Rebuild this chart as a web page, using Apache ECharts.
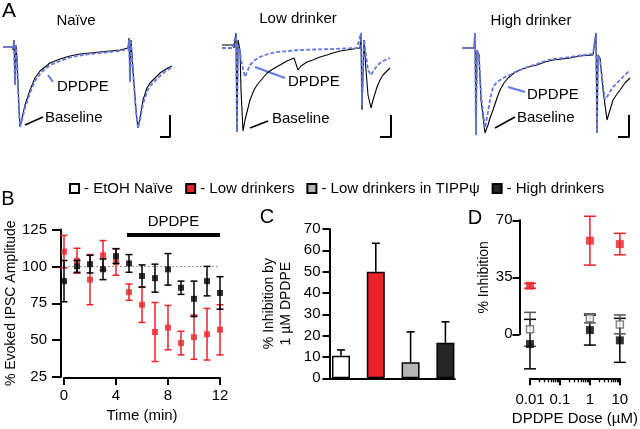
<!DOCTYPE html>
<html><head><meta charset="utf-8">
<script src="https://cdn.jsdelivr.net/npm/echarts@6/dist/echarts.min.js"></script>
<style>html,body{margin:0;padding:0;background:#fff}#c{width:640px;height:429px}</style>
</head><body><div id="c"></div>
<script>
// ---------- Panel A: example IPSC traces, [time (ms), current (pA)] ----------
const naiveBaseline = [[0,0],[10,0],[10,-3],[11,7],[12,-38],[13,2],[14,-13],[16,-63],[17,-80],[19,-71],[22,-58],[27,-43],[32,-31],[37,-24],[42,-20],[47,-16],[57,-12],[67,-9],[77,-7],[87,-6],[97,-5],[107,-4],[117,-3],[125,-1],[126,9],[127,-33],[128,7],[130,-23],[133,-63],[135,-81],[137,-71],[140,-53],[144,-41],[147,-36],[152,-31],[157,-26],[163,-22],[169,-19]];
const naiveDPDPE = [[0,0],[10,0],[11,5],[12,-38],[13,2],[14,-13],[16,-63],[17,-80],[19,-73],[22,-61],[27,-46],[32,-34],[37,-27],[42,-22],[47,-18],[57,-14],[67,-10.5],[77,-8.5],[87,-7],[97,-6],[107,-5],[117,-4],[125,-2],[126,7],[127,-35],[128,5],[130,-25],[133,-65],[135,-81],[137,-73],[140,-57],[144,-45],[147,-39],[152,-34],[157,-29],[163,-24],[169,-20]];
const lowBaseline = [[0,2],[11,2],[12,-1],[14,14],[15,-85],[16,7],[18,-3],[19,-43],[21,-84],[23,-73],[26,-61],[28,-53],[32,-43],[35,-38],[40,-32],[45,-26],[51,-22],[58,-18],[65,-14],[72,-11],[74,-11],[76,-23],[79,-19],[85,-15],[91,-13],[98,-10],[105,-8],[111,-6],[118,-4],[125,-3],[131,-2],[138,-1],[139,14],[140,-63],[142,7],[144,-23],[146,-48],[149,-61],[151,-53],[155,-40],[158,-33],[161,-28],[165,-24],[168,-21]];
const lowDPDPE = [[0,-1],[11,-1],[14,14],[15,-85],[16,2],[18,-5],[20,-18],[23,-30],[25,-25],[28,-18],[33,-13],[38,-10],[46,-7],[55,-5],[66,-4],[78,-3],[93,-2.5],[111,-2],[123,-1.5],[135,-1],[139,14],[140,-58],[142,7],[144,-8],[146,-23],[149,-28],[152,-23],[155,-19],[158,-16],[163,-13],[168,-11]];
const highBaseline = [[2,-1],[14,-1],[15,14],[16,-88],[17,-3],[19,-8],[21,-53],[25,-86],[28,-78],[30,-71],[33,-63],[37,-51],[40,-43],[44,-36],[48,-31],[54,-26],[60,-23],[68,-20],[77,-18],[85,-15],[93,-13],[102,-12],[110,-11],[120,-9],[133,-8],[136,14],[137,-86],[138,-8],[140,-11],[143,-43],[147,-73],[150,-63],[153,-53],[157,-47],[160,-43],[165,-36],[170,-31]];
const highDPDPE = [[2,-1],[14,-1],[15,14],[16,-88],[17,-3],[19,-8],[21,-48],[25,-81],[28,-65],[30,-53],[33,-40],[37,-35],[40,-33],[45,-30],[50,-28],[55,-25],[60,-23],[68,-20],[77,-17],[85,-14],[93,-12],[102,-11],[110,-10],[120,-8.5],[133,-7],[136,14],[137,-86],[138,-8],[140,-13],[143,-38],[145,-53],[148,-48],[153,-40],[157,-36],[160,-33],[165,-28],[170,-23]];
const scaleBarNaive = [[157,-90],[167,-90],[167,-68]];
const scaleBarLow = [[158,-90],[169,-90],[169,-68]];
const scaleBarHigh = [[158,-90],[169,-90],[169,-68]];

// ---------- Panel B: time course ----------
const timeMin = [0,1,2,3,4,5,6,7,8,9,10,11,12];
const lowMean = [110,103.8,91,107.5,103,82.5,74,55.5,58.5,48,52,54,57];
const lowSem  = [11,8.5,17,10,9,5.5,12,20,15,8,15,17.5,17];
const highMean = [90,100,101.5,98,107,102,93.5,92,98,85.5,78,90,82];
const highSem  = [14,4,6,7,5,6,7.5,9.5,10.7,4.5,12,10,11];
const dpdpeWindow = [4.85, 12];
const dpdpeBarLevel = 121.5;

// ---------- Panel C: % inhibition by 1 uM DPDPE ----------
const groups = ['EtOH Naïve','Low drinkers','Low drinkers in TIPPψ','High drinkers'];
const groupColors = ['#ffffff','#e8232a','#b5b5b5','#262626'];
const inhib1uM = [10.6, 50, 7.5, 16.7];
const inhib1uMSem = [2.7, 13.3, 14.3, 9.8];

// ---------- Panel D: dose response ----------
const doses = [0.01, 1, 10];
const dNaive = [3.1, 9.8, 6.1];   const dNaiveSem = [10.4, 2.8, 5.8];
const dLow   = [29.8, 57.5, 55.4]; const dLowSem = [1.5, 15, 6.6];
const dHigh  = [-6, 2.6, -3.7];    const dHighSem = [15.2, 9.2, 13.5];
const doseMinorTicks = [0.02,0.03,0.04,0.05,0.06,0.07,0.08,0.09,0.2,0.3,0.4,0.5,0.6,0.7,0.8,0.9,2,3,4,5,6,7,8,9];

const FONT = 'Liberation Sans, Arial, Helvetica, sans-serif';
const RED = '#e8232a', BLUE = '#6478e6';

function errSeries(xi, yi, data, color, capHalf, upOnly, lw, z) {
  return {
    type: 'custom', xAxisIndex: xi, yAxisIndex: yi, z: z || 3, silent: true,
    encode: {x: 0, y: 1},
    data: data,
    renderItem: function (params, api) {
      const x = api.value(0), y = api.value(1), e = api.value(2);
      const t = api.coord([x, y + e]);
      const m = api.coord([x, y]);
      const b = api.coord([x, y - e]);
      const s = upOnly ? m : b;
      const st = {stroke: color, lineWidth: lw};
      const ch = [
        {type: 'line', shape: {x1: t[0], y1: t[1], x2: s[0], y2: s[1]}, style: st},
        {type: 'line', shape: {x1: t[0] - capHalf, y1: t[1], x2: t[0] + capHalf, y2: t[1]}, style: st}
      ];
      if (!upOnly) ch.push({type: 'line', shape: {x1: b[0] - capHalf, y1: b[1], x2: b[0] + capHalf, y2: b[1]}, style: st});
      return {type: 'group', children: ch};
    }
  };
}
const zip3 = (a, b, c) => a.map((v, i) => [v, b[i], c[i]]);
const zip2 = (a, b) => a.map((v, i) => [v, b[i]]);

function traceAxesX(i) { return {gridIndex: i, type: 'value', min: 0, max: 170, show: false}; }
function traceAxesY(i) { return {gridIndex: i, type: 'value', min: -93, max: 17, show: false}; }
function trace(i, data, color, dashed, w) {
  return {type: 'line', xAxisIndex: i, yAxisIndex: i, data: data, symbol: 'none', silent: true,
    lineStyle: {color: color, width: w, type: dashed ? [4, 2] : 'solid'}, z: dashed ? 3 : 2};
}

const axisLineStyle = {onZero: false, lineStyle: {color: '#000', width: 2}};
const labelStyle = {color: '#000', fontSize: 15, fontFamily: FONT};

const option = {
  animation: false,
  backgroundColor: '#fff',
  textStyle: {fontFamily: FONT, color: '#000'},
  legend: {
    top: 176, left: 64, itemWidth: 9, itemHeight: 9, itemGap: 12, selectedMode: false,
    icon: 'rect',
    data: groups,
    formatter: n => '- ' + n,
    textStyle: {fontSize: 15, color: '#000', fontFamily: FONT}
  },
  grid: [
    {left: 3, top: 30, width: 170, height: 110},
    {left: 222, top: 30, width: 170, height: 110},
    {left: 460, top: 30, width: 170, height: 110},
    {left: 64, top: 229.5, width: 156, height: 147.5},
    {left: 329.5, top: 229, width: 125.3, height: 149.3},
    {left: 530, top: 220.3, width: 98.3, height: 158},
    {left: 519.5, top: 220.3, width: 100, height: 114}
  ],
  xAxis: [
    traceAxesX(0), traceAxesX(1), traceAxesX(2),
    {gridIndex: 3, type: 'value', min: 0, max: 12, interval: 4, offset: 1,
      axisLine: axisLineStyle, axisTick: {length: 7, lineStyle: {width: 2, color: '#000'}},
      axisLabel: Object.assign({margin: 10}, labelStyle), splitLine: {show: false},
      name: 'Time (min)', nameLocation: 'middle', nameGap: 30, nameTextStyle: labelStyle},
    {gridIndex: 4, type: 'value', min: 0.67, max: 4.27, axisLine: axisLineStyle,
      axisTick: {show: false}, axisLabel: {show: false}, splitLine: {show: false}},
    {gridIndex: 5, type: 'log', logBase: 10, min: 0.01, max: 10, position: 'bottom',
      axisLine: axisLineStyle, axisTick: {length: 7, lineStyle: {width: 2, color: '#000'}},
      axisLabel: Object.assign({margin: 14}, labelStyle), splitLine: {show: false}, minorTick: {show: false},
      name: 'DPDPE Dose (µM)', nameLocation: 'middle', nameGap: 33, nameTextStyle: labelStyle},
    {gridIndex: 5, type: 'log', logBase: 10, min: 0.01, max: 10, position: 'bottom',
      axisLine: {show: false, onZero: false}, axisLabel: {show: false}, splitLine: {show: false},
      axisTick: {customValues: doseMinorTicks, length: 4, lineStyle: {width: 1.3, color: '#000'}}},
    {gridIndex: 6, type: 'value', min: 0, max: 1, show: false}
  ],
  yAxis: [
    traceAxesY(0), traceAxesY(1), traceAxesY(2),
    {gridIndex: 3, type: 'value', min: 25, max: 125, interval: 25, offset: 3,
      axisLine: Object.assign({show: true}, axisLineStyle), axisTick: {show: true, length: 9, lineStyle: {width: 2, color: '#000'}},
      axisLabel: Object.assign({margin: 14}, labelStyle), splitLine: {show: false},
      name: '% Evoked IPSC Amplitude', nameLocation: 'middle', nameGap: 43,
      nameTextStyle: {fontSize: 14, color: '#000', fontFamily: FONT}},
    {gridIndex: 4, type: 'value', min: 0, max: 70, interval: 10,
      axisLine: Object.assign({show: true}, axisLineStyle), axisTick: {show: true, length: 7, lineStyle: {width: 2, color: '#000'}},
      axisLabel: Object.assign({margin: 9}, labelStyle), splitLine: {show: false},
      name: '% Inhibition by\n1 µM DPDPE', nameLocation: 'middle', nameGap: 35,
      nameTextStyle: {fontSize: 14, lineHeight: 17, color: '#000', fontFamily: FONT}},
    {gridIndex: 5, type: 'value', min: -27, max: 70, show: false},
    {gridIndex: 6, type: 'value', min: 0, max: 70, interval: 35,
      axisLine: Object.assign({show: true}, axisLineStyle), axisTick: {show: true, length: 7, lineStyle: {width: 2, color: '#000'}},
      axisLabel: Object.assign({margin: 7}, labelStyle), splitLine: {show: false},
      name: '% Inhibition', nameLocation: 'middle', nameGap: 28,
      nameTextStyle: {fontSize: 14, color: '#000', fontFamily: FONT}}
  ],
  series: [
    // Panel A
    trace(0, naiveBaseline, '#000', false, 1.1), trace(0, naiveDPDPE, BLUE, true, 1.8),
    trace(1, lowBaseline, '#000', false, 1.1), trace(1, lowDPDPE, BLUE, true, 1.8),
    trace(2, highBaseline, '#000', false, 1.1), trace(2, highDPDPE, BLUE, true, 1.8),
    trace(0, scaleBarNaive, '#000', false, 2), trace(1, scaleBarLow, '#000', false, 2), trace(2, scaleBarHigh, '#000', false, 2),
    // Panel B
    errSeries(3, 3, zip3(timeMin, lowMean, lowSem), RED, 3.5, false, 1.5, 3),
    {type: 'scatter', name: 'B low', xAxisIndex: 3, yAxisIndex: 3, data: zip2(timeMin, lowMean),
      symbol: 'rect', symbolSize: 6, itemStyle: {color: RED}, z: 4, silent: true,
      markLine: {silent: true, symbol: 'none', animation: false,
        data: [
          {yAxis: 100, lineStyle: {type: [2, 2], color: '#999', width: 1}, label: {show: false}},
          [{coord: [dpdpeWindow[0], dpdpeBarLevel], lineStyle: {type: 'solid', color: '#000', width: 4},
             label: {show: true, formatter: 'DPDPE', position: 'insideMiddleTop', distance: 5, fontSize: 15, color: '#000', fontFamily: FONT}},
           {coord: [dpdpeWindow[1], dpdpeBarLevel]}]
        ]}},
    errSeries(3, 3, zip3(timeMin, highMean, highSem), '#000', 3.5, false, 1.5, 5),
    {type: 'scatter', name: 'B high', xAxisIndex: 3, yAxisIndex: 3, data: zip2(timeMin, highMean),
      symbol: 'rect', symbolSize: 6, itemStyle: {color: '#000'}, z: 6, silent: true},
    // Panel C
    ...groups.map((g, i) => ({
      type: 'bar', name: g, xAxisIndex: 4, yAxisIndex: 4, barWidth: 18, barGap: '-100%',
      data: [[i + 1, inhib1uM[i]]], silent: true,
      itemStyle: {color: groupColors[i], borderColor: '#000', borderWidth: 1.5}
    })),
    errSeries(4, 4, zip3(groups.map((g, i) => i + 1), inhib1uM, inhib1uMSem), '#000', 4, true, 1.6, 5),
    // Panel D
    errSeries(5, 5, zip3(doses, dHigh, dHighSem), '#000', 6, false, 1.5, 3),
    errSeries(5, 5, zip3(doses, dNaive, dNaiveSem), '#555', 6, false, 1.5, 3),
    errSeries(5, 5, zip3(doses, dLow, dLowSem), RED, 6, false, 1.5, 3),
    {type: 'scatter', name: 'D high', xAxisIndex: 5, yAxisIndex: 5, data: zip2(doses, dHigh),
      symbol: 'rect', symbolSize: 8, itemStyle: {color: '#000'}, z: 5, silent: true},
    {type: 'scatter', name: 'D naive', xAxisIndex: 5, yAxisIndex: 5, data: zip2(doses, dNaive),
      symbol: 'rect', symbolSize: 7, itemStyle: {color: '#fff', borderColor: '#666', borderWidth: 1.5}, z: 6, silent: true},
    {type: 'scatter', name: 'D low', xAxisIndex: 5, yAxisIndex: 5, data: zip2(doses, dLow),
      symbol: 'rect', symbolSize: 8, itemStyle: {color: RED}, z: 6, silent: true}
  ],
  graphic: [
    {type: 'text', x: 9, y: 11, style: {text: 'A', font: '21px ' + FONT, fill: '#000', align: 'center', verticalAlign: 'middle'}},
    {type: 'text', x: 8, y: 199, style: {text: 'B', font: '20px ' + FONT, fill: '#000', align: 'center', verticalAlign: 'middle'}},
    {type: 'text', x: 267, y: 217, style: {text: 'C', font: '20px ' + FONT, fill: '#000', align: 'center', verticalAlign: 'middle'}},
    {type: 'text', x: 475, y: 218, style: {text: 'D', font: '20px ' + FONT, fill: '#000', align: 'center', verticalAlign: 'middle'}},
    {type: 'text', x: 76, y: 21, style: {text: 'Naïve', font: '15px ' + FONT, fill: '#000', align: 'center', verticalAlign: 'middle'}},
    {type: 'text', x: 298, y: 19, style: {text: 'Low drinker', font: '15px ' + FONT, fill: '#000', align: 'center', verticalAlign: 'middle'}},
    {type: 'text', x: 531, y: 21, style: {text: 'High drinker', font: '15px ' + FONT, fill: '#000', align: 'center', verticalAlign: 'middle'}},
    {type: 'text', x: 57, y: 87, style: {text: 'DPDPE', font: '15px ' + FONT, fill: '#000', align: 'left', verticalAlign: 'middle'}},
    {type: 'text', x: 45, y: 118, style: {text: 'Baseline', font: '15px ' + FONT, fill: '#000', align: 'left', verticalAlign: 'middle'}},
    {type: 'text', x: 288, y: 82, style: {text: 'DPDPE', font: '15px ' + FONT, fill: '#000', align: 'left', verticalAlign: 'middle'}},
    {type: 'text', x: 272, y: 119, style: {text: 'Baseline', font: '15px ' + FONT, fill: '#000', align: 'left', verticalAlign: 'middle'}},
    {type: 'text', x: 527, y: 95, style: {text: 'DPDPE', font: '15px ' + FONT, fill: '#000', align: 'left', verticalAlign: 'middle'}},
    {type: 'text', x: 517, y: 118, style: {text: 'Baseline', font: '15px ' + FONT, fill: '#000', align: 'left', verticalAlign: 'middle'}},
    {type: 'line', shape: {x1: 48, y1: 75, x2: 53, y2: 82}, style: {stroke: BLUE, lineWidth: 2}},
    {type: 'line', shape: {x1: 25, y1: 125, x2: 43, y2: 117}, style: {stroke: '#000', lineWidth: 1.6}},
    {type: 'line', shape: {x1: 255, y1: 67, x2: 285, y2: 78}, style: {stroke: BLUE, lineWidth: 2}},
    {type: 'line', shape: {x1: 250, y1: 128, x2: 268, y2: 121}, style: {stroke: '#000', lineWidth: 1.6}},
    {type: 'line', shape: {x1: 508, y1: 87, x2: 525, y2: 92}, style: {stroke: BLUE, lineWidth: 2}},
    {type: 'line', shape: {x1: 495, y1: 128, x2: 515, y2: 117}, style: {stroke: '#000', lineWidth: 1.6}}
  ]
};
echarts.init(document.getElementById('c'), null, {renderer: 'canvas'}).setOption(option);
</script>
</body></html>
